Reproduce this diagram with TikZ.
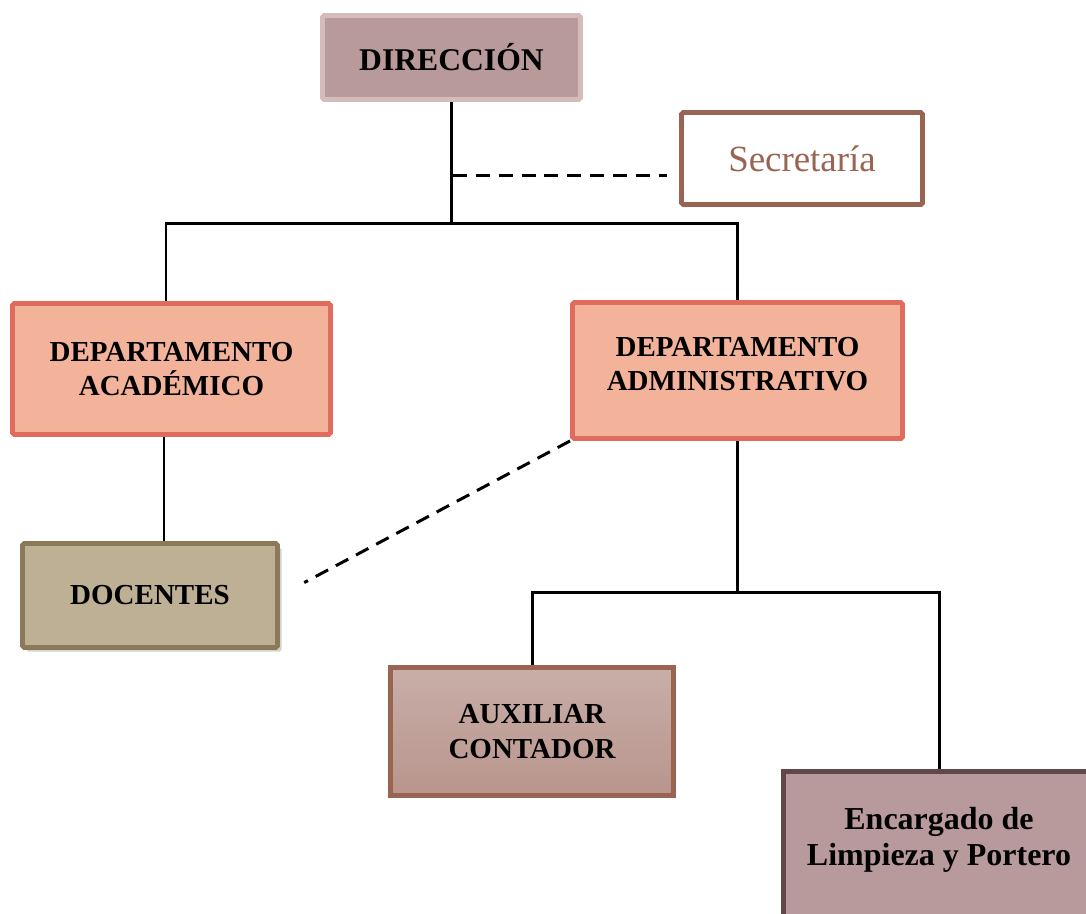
\documentclass[tikz,border=0pt]{standalone}
\usepackage{fontspec}
\setmainfont{Liberation Serif}
\usepackage{tikz}
\usetikzlibrary{calc,shadows}

\definecolor{dirfondo}{HTML}{B99A9B}
\definecolor{dirborde}{HTML}{D4BCBD}
\definecolor{secborde}{HTML}{9A6452}
\definecolor{depfondo}{HTML}{F3B39B}
\definecolor{depborde}{HTML}{E06C5E}
\definecolor{docfondo}{HTML}{BDB095}
\definecolor{docborde}{HTML}{8B7A57}
\definecolor{auxarriba}{HTML}{C9AEA8}
\definecolor{auxabajo}{HTML}{B8958D}
\definecolor{encfondo}{HTML}{B89A9C}
\definecolor{encborde}{HTML}{61474A}

\begin{document}
\begin{tikzpicture}[
        caja/.style={rectangle, draw, line width=2.8pt, rounded corners=1pt, align=center, font=\bfseries\fontsize{16.5}{19.5}\selectfont},
        linea/.style={line width=1.7pt},
        punteada/.style={line width=1.7pt, dash pattern=on 8pt off 5pt}
        ]
        \useasboundingbox (0,0) rectangle (21.72,-18.26);
        \clip (0,0) rectangle (21.72,-18.26);
        % Nodos principales
        \node[caja, fill=dirfondo, draw=dirborde, minimum width=5.16cm, minimum height=1.68cm, font=\bfseries\fontsize{18}{21}\selectfont] (direccion) at (9.03,-1.15) {DIRECCIÓN};
        \node[caja, fill=white, draw=secborde, text=secborde, minimum width=4.82cm, minimum height=1.84cm, font=\fontsize{21}{24}\selectfont] (secretaria) at (16.04,-3.17) {Secretaría};
        \node[caja, fill=depfondo, draw=depborde, minimum width=6.36cm, minimum height=2.62cm] (academico) at (3.43,-7.38) {DEPARTAMENTO\\ACADÉMICO};
        \node[caja, fill=depfondo, draw=depborde, minimum width=6.6cm, minimum height=2.72cm] (administrativo) at (14.75,-7.41) {DEPARTAMENTO\\ADMINISTRATIVO\\[-0.41cm]};

        % Nodos secundarios
        \node[caja, fill=docfondo, draw=docborde, drop shadow={opacity=0.35}, minimum width=5.1cm, minimum height=2.08cm] (docentes) at (3.0,-11.91) {DOCENTES};
        \node[caja, top color=auxarriba, bottom color=auxabajo, draw=secborde, rounded corners=0pt, minimum width=5.66cm, minimum height=2.56cm] (auxiliar) at (10.64,-14.63) {AUXILIAR\\CONTADOR};
        \node[caja, fill=encfondo, draw=encborde, rounded corners=0pt, minimum width=6.22cm, minimum height=2.92cm, font=\bfseries\fontsize{18.2}{20}\selectfont] (encargado) at (18.78,-16.89) {Encargado de\\Limpieza y Portero\\[-0.38cm]};

        % Puntos de union
        \coordinate (union1) at (9.06,-4.46);
        \coordinate (sec1) at (9.06,-3.5);
        \coordinate (union2) at (14.82,-11.84);

        % Conexiones
        \draw[linea] (direccion.south) -- (direccion.south |- union1);
        \draw[linea] ([xshift=-0.11cm]academico.north) |- (union1) -| (administrativo.north);
        \draw[punteada, shorten >=0.25cm] (sec1) -- (secretaria.west |- sec1);
        \draw[linea] ([xshift=-0.15cm]academico.south) -- ([xshift=-0.15cm]docentes.north -| academico.south);
        \draw[punteada, shorten >=0.55cm] (administrativo.south west) -- (docentes.east);
        \draw[linea] (administrativo.south) -- (administrativo.south |- union2);
        \draw[linea] (auxiliar.north) |- (union2) -| (encargado.north);
        \end{tikzpicture}
\end{document}
